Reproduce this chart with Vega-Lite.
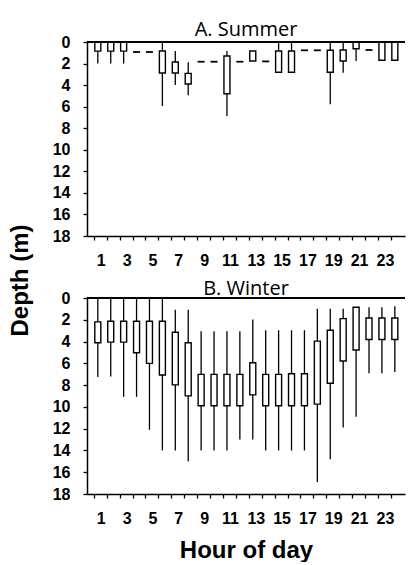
{
  "$schema": "https://vega.github.io/schema/vega-lite/v6.json",
  "padding": {"left": 8, "top": 20, "right": 0, "bottom": 0},
  "bounds": "flush",
  "spacing": 62,
  "config": {
    "view": {"stroke": null},
    "font": "Liberation Sans",
    "axis": {"domainColor": "black", "domainWidth": 1.5, "tickColor": "black", "tickWidth": 1.3, "tickSize": 4, "labelColor": "black", "labelFont": "Liberation Sans", "labelFontWeight": "bold", "labelFontSize": 16, "grid": false, "titleColor": "black", "titleFont": "Liberation Sans", "titleFontWeight": "bold", "titleFontSize": 24},
    "title": {"font": "Open Sans", "fontWeight": "normal", "fontSize": 20, "color": "black", "anchor": "middle", "baseline": "alphabetic"}
  },
  "datasets": {
    "boxes": [
      {"season": "Summer", "hour": 1, "min": 0, "q1": 0, "q3": 0.85, "max": 2.0},
      {"season": "Summer", "hour": 2, "min": 0, "q1": 0, "q3": 0.85, "max": 2.0},
      {"season": "Summer", "hour": 3, "min": 0, "q1": 0, "q3": 0.85, "max": 2.0},
      {"season": "Summer", "hour": 6, "min": 0, "q1": 0.83, "q3": 2.88, "max": 5.94},
      {"season": "Summer", "hour": 7, "min": 0.83, "q1": 1.86, "q3": 2.88, "max": 3.99},
      {"season": "Summer", "hour": 8, "min": 1.89, "q1": 2.91, "q3": 3.9, "max": 4.95},
      {"season": "Summer", "hour": 11, "min": 0.83, "q1": 1.3, "q3": 4.8, "max": 6.86},
      {"season": "Summer", "hour": 13, "min": 0.83, "q1": 0.83, "q3": 1.76, "max": 1.76},
      {"season": "Summer", "hour": 15, "min": 0, "q1": 0.83, "q3": 2.81, "max": 2.81},
      {"season": "Summer", "hour": 16, "min": 0, "q1": 0.83, "q3": 2.81, "max": 2.81},
      {"season": "Summer", "hour": 19, "min": 0, "q1": 0.77, "q3": 2.81, "max": 5.78},
      {"season": "Summer", "hour": 20, "min": 0, "q1": 0.74, "q3": 1.76, "max": 2.85},
      {"season": "Summer", "hour": 21, "min": 0, "q1": 0, "q3": 0.62, "max": 1.76},
      {"season": "Summer", "hour": 23, "min": 0, "q1": 0, "q3": 1.7, "max": 1.7},
      {"season": "Summer", "hour": 24, "min": 0, "q1": 0, "q3": 1.7, "max": 1.7},
      {"season": "Winter", "hour": 1, "min": 0, "q1": 2.19, "q3": 4.11, "max": 7.25},
      {"season": "Winter", "hour": 2, "min": 0, "q1": 2.13, "q3": 4.05, "max": 7.22},
      {"season": "Winter", "hour": 3, "min": 0, "q1": 2.13, "q3": 4.05, "max": 9.08},
      {"season": "Winter", "hour": 4, "min": 0, "q1": 2.13, "q3": 5.03, "max": 9.08},
      {"season": "Winter", "hour": 5, "min": 0, "q1": 2.13, "q3": 6.0, "max": 12.1},
      {"season": "Winter", "hour": 6, "min": 0, "q1": 2.13, "q3": 7.07, "max": 14.0},
      {"season": "Winter", "hour": 7, "min": 1.07, "q1": 3.14, "q3": 7.98, "max": 14.0},
      {"season": "Winter", "hour": 8, "min": 1.07, "q1": 4.11, "q3": 8.99, "max": 15.0},
      {"season": "Winter", "hour": 9, "min": 3.05, "q1": 7.01, "q3": 9.9, "max": 14.0},
      {"season": "Winter", "hour": 10, "min": 3.05, "q1": 7.01, "q3": 9.9, "max": 14.0},
      {"season": "Winter", "hour": 11, "min": 3.05, "q1": 7.01, "q3": 9.9, "max": 14.0},
      {"season": "Winter", "hour": 12, "min": 3.05, "q1": 7.01, "q3": 9.9, "max": 13.0},
      {"season": "Winter", "hour": 13, "min": 1.98, "q1": 5.94, "q3": 8.9, "max": 13.0},
      {"season": "Winter", "hour": 14, "min": 2.96, "q1": 7.01, "q3": 9.9, "max": 14.0},
      {"season": "Winter", "hour": 15, "min": 2.96, "q1": 7.01, "q3": 9.9, "max": 14.0},
      {"season": "Winter", "hour": 16, "min": 2.96, "q1": 6.95, "q3": 9.9, "max": 14.0},
      {"season": "Winter", "hour": 17, "min": 2.96, "q1": 6.95, "q3": 9.9, "max": 14.0},
      {"season": "Winter", "hour": 18, "min": 0.98, "q1": 3.96, "q3": 9.75, "max": 16.9},
      {"season": "Winter", "hour": 19, "min": 0.98, "q1": 2.96, "q3": 7.83, "max": 14.8},
      {"season": "Winter", "hour": 20, "min": 0.98, "q1": 1.89, "q3": 5.79, "max": 11.9},
      {"season": "Winter", "hour": 21, "min": 0.85, "q1": 0.85, "q3": 4.78, "max": 10.9},
      {"season": "Winter", "hour": 22, "min": 0.85, "q1": 1.83, "q3": 3.81, "max": 6.9},
      {"season": "Winter", "hour": 23, "min": 0.85, "q1": 1.83, "q3": 3.81, "max": 6.9},
      {"season": "Winter", "hour": 24, "min": 0.76, "q1": 1.83, "q3": 3.81, "max": 6.8}
    ],
    "dashes": [
      {"hour": 4, "depth": 0.93},
      {"hour": 5, "depth": 0.93},
      {"hour": 9, "depth": 1.83},
      {"hour": 10, "depth": 1.83},
      {"hour": 12, "depth": 1.83},
      {"hour": 14, "depth": 1.8},
      {"hour": 17, "depth": 0.77},
      {"hour": 18, "depth": 0.77},
      {"hour": 22, "depth": 0.74}
    ]
  },
  "vconcat": [
    {
      "width": 318,
      "height": 194,
      "title": {"text": "A. Summer", "offset": -6},
      "data": {"name": "boxes"},
      "transform": [{"filter": "datum.season === 'Summer'"}],
      "encoding": {
        "x": {"field": "hour", "type": "quantitative", "scale": {"domain": [0.55, 24.4], "nice": false, "zero": false},
              "axis": {"values": [1,2,3,4,5,6,7,8,9,10,11,12,13,14,15,16,17,18,19,20,21,22,23,24], "labelExpr": "datum.value % 2 == 1 ? datum.label : ''", "title": null, "labelPadding": 12, "tickOffset": -4, "labelOffset": 7, "labelFlush": false, "labelOverlap": false}},
        "y": {"field": "min", "type": "quantitative", "scale": {"domain": [0, 18], "reverse": true, "nice": false, "zero": false},
              "axis": {"values": [0,2,4,6,8,10,12,14,16,18], "title": "Depth (m)", "titleX": -55, "titleY": 238, "labelPadding": 13, "labelFlush": false, "labelOverlap": false}}
      },
      "layer": [
        {"mark": {"type": "rule", "color": "black", "strokeWidth": 1.3}, "encoding": {"y2": {"field": "max"}}},
        {"mark": {"type": "bar", "size": 6, "fill": "white", "stroke": "black", "strokeWidth": 1.4}, "encoding": {"y": {"field": "q1", "type": "quantitative"}, "y2": {"field": "q3"}}},
        {"data": {"name": "dashes"}, "transform": [], "mark": {"type": "tick", "orient": "horizontal", "size": 7, "thickness": 1.8, "color": "black", "opacity": 1}, "encoding": {"x": {"field": "hour", "type": "quantitative"}, "y": {"field": "depth", "type": "quantitative"}}},
        {"mark": {"type": "rule", "color": "black", "strokeWidth": 1.5}, "encoding": {"y": {"datum": 0}, "x": {"value": 0}, "x2": {"value": 318}}}
      ]
    },
    {
      "width": 318,
      "height": 196,
      "title": {"text": "B. Winter", "offset": -9},
      "data": {"name": "boxes"},
      "transform": [{"filter": "datum.season === 'Winter'"}],
      "encoding": {
        "x": {"field": "hour", "type": "quantitative", "scale": {"domain": [0.55, 24.4], "nice": false, "zero": false},
              "axis": {"values": [1,2,3,4,5,6,7,8,9,10,11,12,13,14,15,16,17,18,19,20,21,22,23,24], "labelExpr": "datum.value % 2 == 1 ? datum.label : ''", "title": "Hour of day", "titlePadding": 12, "labelPadding": 12, "tickOffset": -4, "labelOffset": 7, "labelFlush": false, "labelOverlap": false}},
        "y": {"field": "min", "type": "quantitative", "scale": {"domain": [0, 18], "reverse": true, "nice": false, "zero": false},
              "axis": {"values": [0,2,4,6,8,10,12,14,16,18], "title": null, "labelPadding": 13, "labelFlush": false, "labelOverlap": false}}
      },
      "layer": [
        {"mark": {"type": "rule", "color": "black", "strokeWidth": 1.3}, "encoding": {"y2": {"field": "max"}}},
        {"mark": {"type": "bar", "size": 6, "fill": "white", "stroke": "black", "strokeWidth": 1.4}, "encoding": {"y": {"field": "q1", "type": "quantitative"}, "y2": {"field": "q3"}}},
        {"mark": {"type": "rule", "color": "black", "strokeWidth": 1.5}, "encoding": {"y": {"datum": 0}, "x": {"value": 0}, "x2": {"value": 318}}}
      ]
    }
  ]
}
